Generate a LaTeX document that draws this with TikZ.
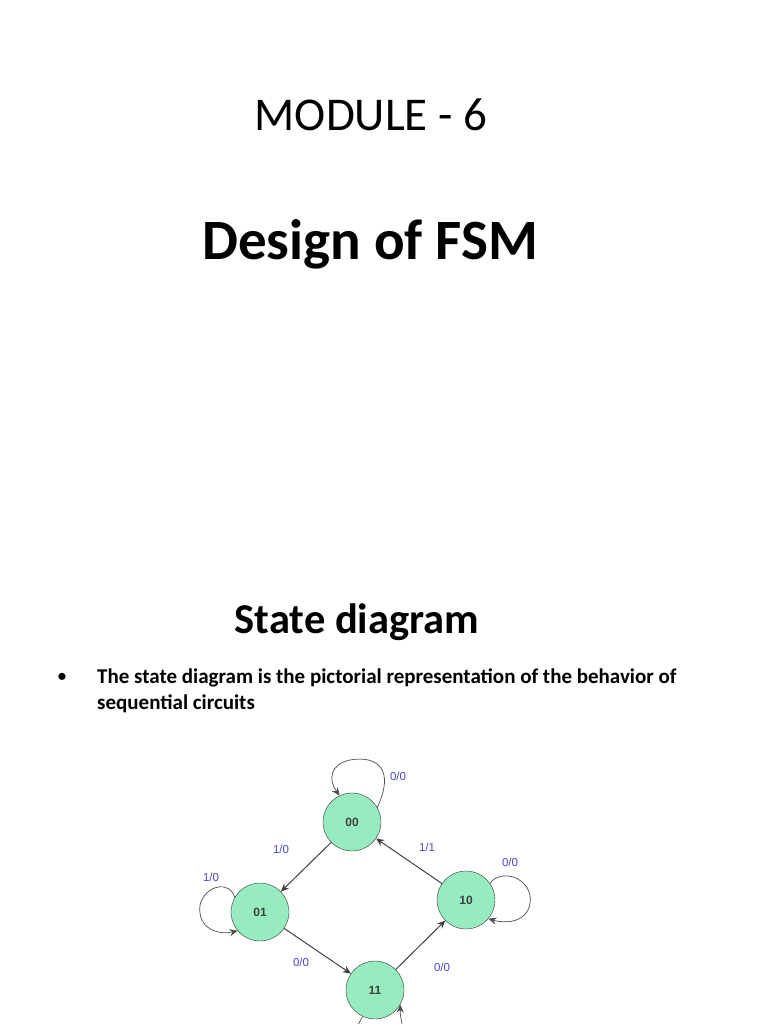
\documentclass[tikz,border=0pt]{standalone}
\usepackage{fontspec}
\setmainfont{Carlito}
\newfontfamily\lab{Liberation Sans}
\usetikzlibrary{arrows.meta}
\definecolor{mint}{RGB}{150,236,190}
\definecolor{lbl}{RGB}{75,70,200}
\begin{document}
\begin{tikzpicture}[x=1pt,y=-1pt,
 st/.style={circle,draw=black!80,fill=mint,minimum size=58pt,inner sep=0pt,font=\lab\bfseries\fontsize{12}{12}\selectfont,text=black!75},
 tr/.style={draw=black!75,line width=1pt,-{Stealth[length=8pt,width=7pt]}},
 lp/.style={draw=black!70,line width=0.7pt,-{Stealth[length=8pt,width=7pt]}},
 lb/.style={font=\lab\fontsize{11.5}{11.5}\selectfont,text=lbl}]
\useasboundingbox (0,0) rectangle (768,1024);
\clip (0,0) rectangle (768,1024);
\node[font=\fontsize{47}{47}\selectfont] (t1) at (371,115) {MODULE - 6};
\node[font=\fontsize{57}{57}\selectfont\bfseries] (t2) at (370,244) {Design of FSM};
\node[font=\fontsize{42.5}{42.5}\selectfont\bfseries] (t3) at (357,622) {State diagram};
\node[font=\fontsize{20}{20}\selectfont] (bu) at (62,678) {\textbullet};
\node[anchor=north west,align=left,inner sep=0pt,font=\fontsize{21}{26}\selectfont\bfseries] (bt) at (97,669) {The state diagram is the pictorial representation of the behavior of\\ sequential circuits};
\node[st] (s00) at (352,822) {00};
\node[st] (s01) at (260,912) {01};
\node[st] (s10) at (466,900) {10};
\node[st] (s11) at (375,990) {11};
\draw[tr] (s00) -- (s01);
\draw[tr] (s01) -- (s11);
\draw[tr] (s11) -- (s10);
\draw[tr] (s10) -- (s00);
\draw[lp] (s00.30) .. controls (395,770) and (378,755) .. (350,760) .. controls (330,764) and (328,780) .. (s00.115);
\draw[lp] (s01.150) .. controls (230,880) and (205,885) .. (200,905) .. controls (197,930) and (220,935) .. (s01.220);
\draw[lp] (s10.35) .. controls (500,870) and (525,875) .. (530,895) .. controls (533,920) and (510,925) .. (s10.320);
\draw[lp] (s11.245) .. controls (355,1030) and (350,1040) .. (350,1050);
\draw[lp] (405,1040) .. controls (405,1030) and (400,1022) .. (s11.330);
\node[lb] (l1) at (398,776) {0/0};
\node[lb] (l2) at (281,849) {1/0};
\node[lb] (l3) at (427,847) {1/1};
\node[lb] (l4) at (211,877) {1/0};
\node[lb] (l5) at (510,862) {0/0};
\node[lb] (l6) at (301,962) {0/0};
\node[lb] (l7) at (442,967) {0/0};
\end{tikzpicture}
\end{document}
